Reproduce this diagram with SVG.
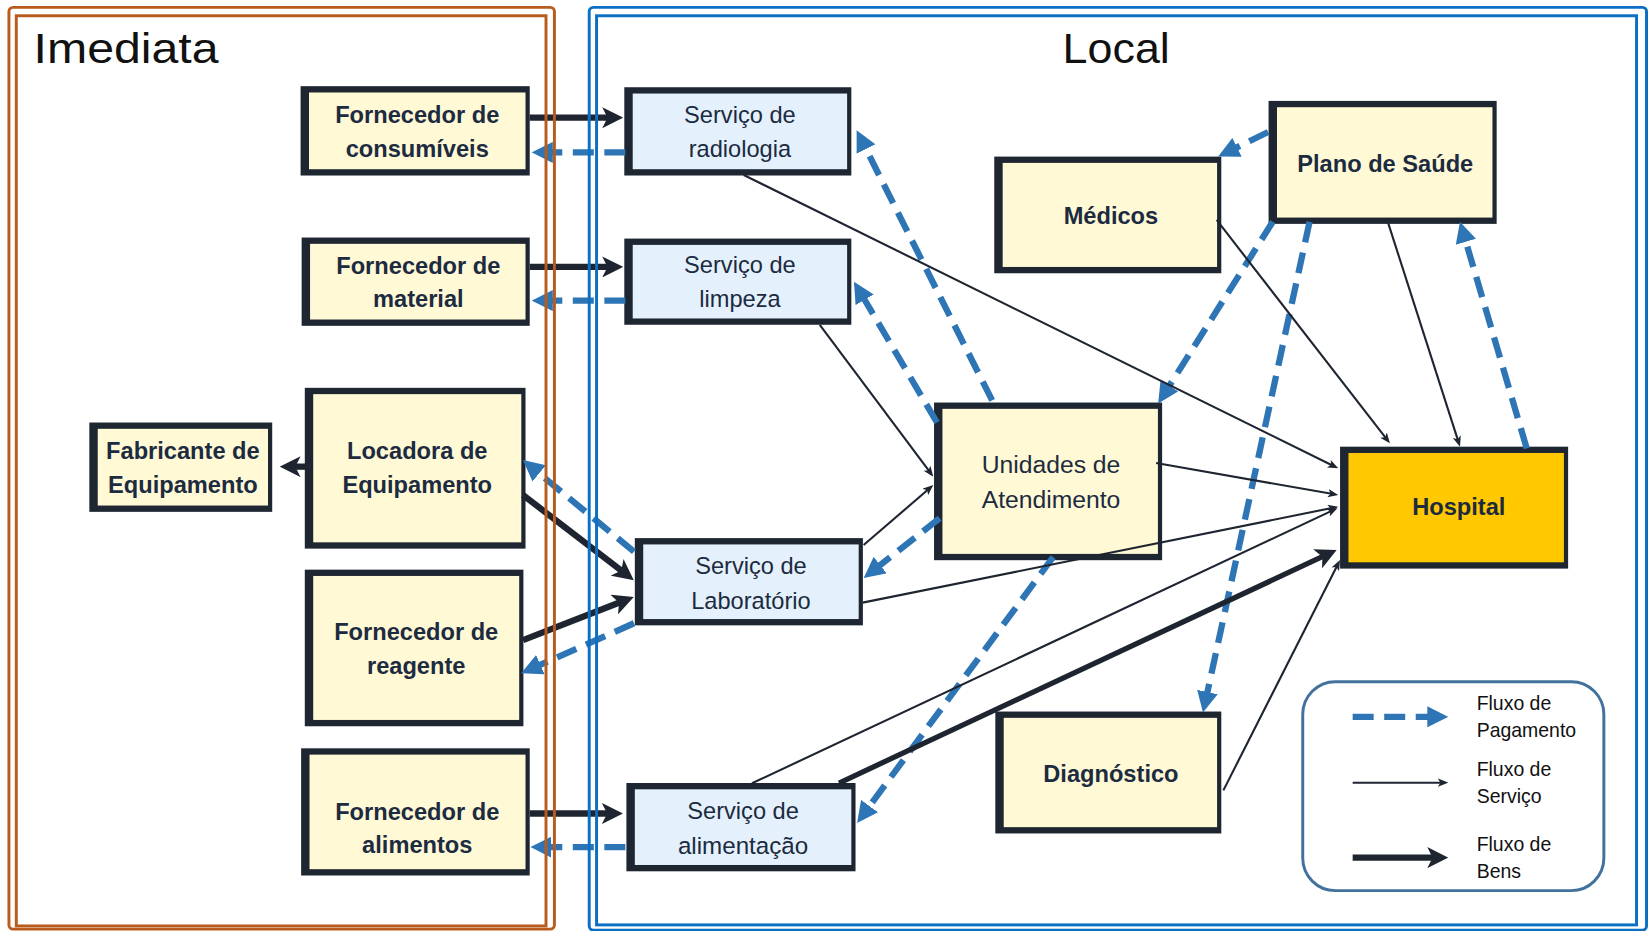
<svg xmlns="http://www.w3.org/2000/svg" width="1648" height="931" viewBox="0 0 1648 931">
<style>
.box{fill:#1E2632}
.y{fill:#FFF9D6}
.b{fill:#E4F1FC}
.h{fill:#FFC800}
.t{font-family:"Liberation Sans",Arial,sans-serif;font-size:22.5px;fill:#1C2B3F;text-anchor:middle}
.bold{font-weight:bold}
.title{font-family:"Liberation Sans",Arial,sans-serif;font-size:40px;fill:#111}
.leg{font-family:"Liberation Sans",Arial,sans-serif;font-size:18.5px;fill:#111}
.pay{fill:none;stroke:#2E75B6;stroke-width:6;stroke-dasharray:20 10}
.goods{fill:none;stroke:#1E2530;stroke-width:6}
.svc{fill:none;stroke:#1E2530;stroke-width:2}
</style>
<defs>
<marker id="mPay" markerUnits="userSpaceOnUse" markerWidth="20" markerHeight="20" refX="10" refY="10" orient="auto"><path d="M0,0 L20,10 L0,20 Z" fill="#2E75B6"/></marker>
<marker id="mGoods" markerUnits="userSpaceOnUse" markerWidth="20" markerHeight="20" refX="10" refY="10" orient="auto"><path d="M0,0 L20,10 L0,20 L5,10 Z" fill="#1E2530"/></marker>
<marker id="mSvc" markerUnits="userSpaceOnUse" markerWidth="10" markerHeight="8" refX="5" refY="4" orient="auto"><path d="M0,0 L10,4 L0,8 L2.5,4 Z" fill="#1E2530"/></marker>
</defs>
<rect width="1648" height="931" fill="#fff"/>
<g transform="scale(1.05102)">
<g id="nodes">
<g id="forn-consumiveis"><rect class="box" x="286" y="82" width="218" height="85"/><rect class="y" x="294" y="88" width="206" height="73"/><text class="t bold" x="397" y="117.5">Fornecedor de</text><text class="t bold" x="397" y="149.5">consumíveis</text></g>
<g id="forn-material"><rect class="box" x="287" y="226" width="217" height="84"/><rect class="y" x="295" y="232" width="205" height="72"/><text class="t bold" x="398" y="260.5">Fornecedor de</text><text class="t bold" x="398" y="292.5">material</text></g>
<g id="locadora"><rect class="box" x="290" y="369" width="210" height="153"/><rect class="y" x="298" y="375" width="198" height="141"/><text class="t bold" x="397" y="436.5">Locadora de</text><text class="t bold" x="397" y="469.5">Equipamento</text></g>
<g id="fabricante"><rect class="box" x="85" y="402" width="174" height="85"/><rect class="y" x="93" y="408" width="162" height="73"/><text class="t bold" x="174" y="436.5">Fabricante de</text><text class="t bold" x="174" y="469.5">Equipamento</text></g>
<g id="forn-reagente"><rect class="box" x="290" y="542" width="208" height="149"/><rect class="y" x="298" y="548" width="196" height="137"/><text class="t bold" x="396" y="609">Fornecedor de</text><text class="t bold" x="396" y="641">reagente</text></g>
<g id="forn-alimentos"><rect class="box" x="286.5" y="712" width="217.5" height="121"/><rect class="y" x="294.5" y="718" width="205.5" height="109"/><text class="t bold" x="397" y="780">Fornecedor de</text><text class="t bold" x="397" y="812">alimentos</text></g>
<g id="serv-radiologia"><rect class="box" x="594" y="83" width="216" height="84"/><rect class="b" x="602" y="89" width="204" height="72"/><text class="t" x="704" y="116.7">Serviço de</text><text class="t" x="704" y="149">radiologia</text></g>
<g id="serv-limpeza"><rect class="box" x="594" y="227" width="216" height="82"/><rect class="b" x="602" y="233" width="204" height="70"/><text class="t" x="704" y="260">Serviço de</text><text class="t" x="704" y="292.4">limpeza</text></g>
<g id="serv-laboratorio"><rect class="box" x="604" y="512" width="217" height="83"/><rect class="b" x="612" y="518" width="205" height="71"/><text class="t" x="714.5" y="546.5">Serviço de</text><text class="t" x="714.5" y="579.8">Laboratório</text></g>
<g id="serv-alimentacao"><rect class="box" x="596" y="745" width="218" height="84"/><rect class="b" x="604" y="751" width="206" height="72"/><text class="t" x="707" y="779.6">Serviço de</text><text class="t" x="707" y="812.6" style="font-size:23px">alimentação</text></g>
<g id="unidades"><rect class="box" x="888.7" y="383" width="217" height="150"/><rect class="y" x="896.7" y="389" width="205" height="138"/><text class="t" x="1000" y="450.4" style="font-size:23.5px">Unidades de</text><text class="t" x="1000" y="483.6" style="font-size:23.5px">Atendimento</text></g>
<g id="medicos"><rect class="box" x="946" y="149" width="216" height="111"/><rect class="y" x="954" y="155" width="204" height="99"/><text class="t bold" x="1057" y="213">Médicos</text></g>
<g id="plano"><rect class="box" x="1207" y="96" width="217" height="117"/><rect class="y" x="1215" y="102" width="205" height="105"/><text class="t bold" x="1318" y="163.3">Plano de Saúde</text></g>
<g id="hospital"><rect class="box" x="1275" y="425" width="217" height="116"/><rect class="h" x="1283" y="431" width="205" height="104"/><text class="t bold" x="1388" y="490">Hospital</text></g>
<g id="diagnostico"><rect class="box" x="947" y="677" width="215" height="116"/><rect class="y" x="955" y="683" width="203" height="104"/><text class="t bold" x="1057" y="743.7">Diagnóstico</text></g>
</g>
<g id="connectors">
<path class="pay" marker-end="url(#mPay)" d="M595,145 L516,145"/>
<path class="pay" marker-end="url(#mPay)" d="M595,286 L516,286"/>
<path class="pay" marker-end="url(#mPay)" d="M595,806 L514.7,806"/>
<path class="pay" marker-end="url(#mPay)" d="M603.2,524.9 L505.3,444.1"/>
<path class="pay" marker-end="url(#mPay)" d="M603.2,593 L505,636.5"/>
<path class="pay" marker-end="url(#mPay)" d="M944,381 L819.5,132.9"/>
<path class="pay" marker-end="url(#mPay)" d="M891.5,402 L817.6,276.6"/>
<path class="pay" marker-end="url(#mPay)" d="M894,493 L829.6,543.8"/>
<path class="pay" marker-end="url(#mPay)" d="M1002,530 L821.4,775"/>
<path class="pay" marker-end="url(#mPay)" d="M1211,211 L1107.3,375.5"/>
<path class="pay" marker-end="url(#mPay)" d="M1246,211 L1146.7,668.2"/>
<path class="pay" marker-end="url(#mPay)" d="M1206.6,125.6 L1168,144.6"/>
<path class="pay" marker-end="url(#mPay)" d="M1452.6,426.6 L1391.9,220.5"/>
<path class="goods" marker-end="url(#mGoods)" d="M504,112 L583,112"/>
<path class="goods" marker-end="url(#mGoods)" d="M504,254 L583,254"/>
<path class="goods" marker-end="url(#mGoods)" d="M497.6,471 L595.1,545.9"/>
<path class="goods" marker-end="url(#mGoods)" d="M497.6,609 L593.7,571.6"/>
<path class="goods" marker-end="url(#mGoods)" d="M504,774 L582.7,774"/>
<path class="goods" marker-end="url(#mGoods)" d="M291,444 L276,444"/>
<path class="goods" marker-end="url(#mGoods)" style="stroke-width:5" d="M798.3,745 L1262.7,527.5"/>
<path class="svc" marker-end="url(#mSvc)" d="M707.6,166.5 L1268.8,443.4"/>
<path class="svc" marker-end="url(#mSvc)" d="M1100,440.6 L1268.4,470.1"/>
<path class="svc" marker-end="url(#mSvc)" d="M820.8,573.4 L1268.4,483.1"/>
<path class="svc" marker-end="url(#mSvc)" d="M715.5,745.3 L1268,485.6"/>
<path class="svc" marker-end="url(#mSvc)" d="M1157.6,209.3 L1319.4,417.9"/>
<path class="svc" marker-end="url(#mSvc)" d="M1320.9,212.5 L1387.6,420.2"/>
<path class="svc" marker-end="url(#mSvc)" d="M1164,752 L1272.7,537.3"/>
<path class="svc" marker-end="url(#mSvc)" d="M780,309 L885,449.5"/>
<path class="svc" marker-end="url(#mSvc)" d="M821.7,518.6 L884.2,464.8"/>
</g>
<g id="frames" fill="none" stroke-width="2.8">
<rect x="8.5" y="7" width="519" height="877" rx="4" stroke="#B85C1E"/>
<rect x="15.5" y="15" width="504" height="866" stroke="#B85C1E"/>
<rect x="560.6" y="7" width="1006" height="878" rx="4" stroke="#0B6FC4"/>
<rect x="567.6" y="15" width="989.5" height="865" stroke="#0B6FC4"/>
<text class="title" x="32" y="60" stroke="none" textLength="176" lengthAdjust="spacingAndGlyphs">Imediata</text>
<text class="title" x="1011" y="60" stroke="none" textLength="102" lengthAdjust="spacingAndGlyphs">Local</text>
</g>
<g id="legend">
<rect x="1239.5" y="648.6" width="286.5" height="198.8" rx="31" fill="none" stroke="#41719C" stroke-width="2.8"/>
<path class="pay" marker-end="url(#mPay)" d="M1287,682 L1368,682"/>
<path class="svc" marker-end="url(#mSvc)" d="M1287,744.7 L1373,744.7"/>
<path class="goods" marker-end="url(#mGoods)" d="M1287,816 L1368,816"/>
<text class="leg" x="1405" y="676">Fluxo de</text>
<text class="leg" x="1405" y="701">Pagamento</text>
<text class="leg" x="1405" y="738">Fluxo de</text>
<text class="leg" x="1405" y="764">Serviço</text>
<text class="leg" x="1405" y="810">Fluxo de</text>
<text class="leg" x="1405" y="835">Bens</text>
</g>
</g>
</svg>
